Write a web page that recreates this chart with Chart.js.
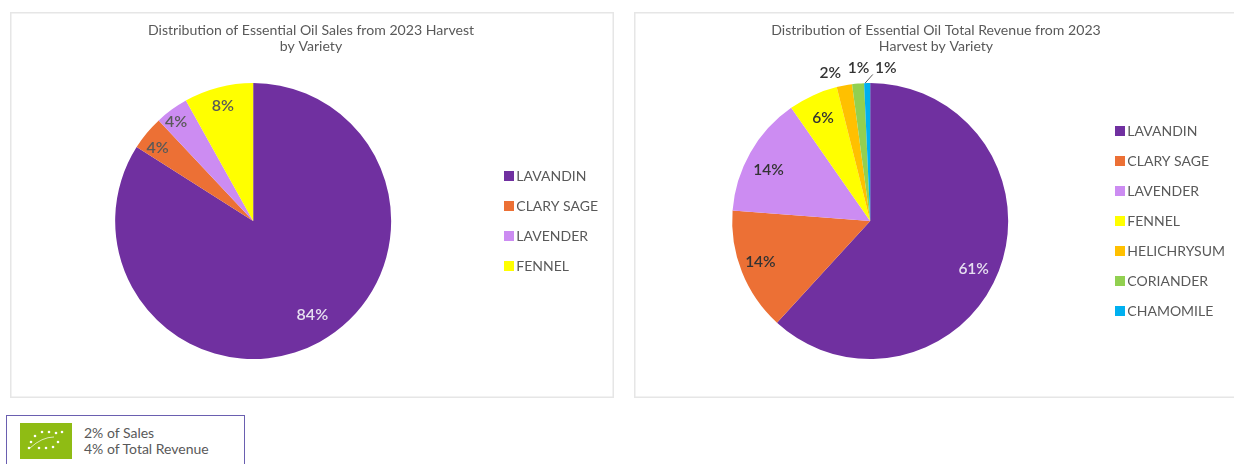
<!DOCTYPE html>
<html>
<head>
<meta charset="utf-8">
<script src="https://cdn.jsdelivr.net/npm/chart.js@4"></script>
<style>
  html, body { margin: 0; background: #fff; overflow: hidden; font-family: Lato, sans-serif; }
  .panel { position: absolute; top: 12px; width: 604px; height: 386px; box-sizing: border-box; box-shadow: inset 0 0 0 1.5px #e6e6e6; }
  #organic { position: absolute; left: 6px; top: 415px; width: 239px; height: 60px; box-sizing: border-box; border: 1.5px solid #6a5fb0; }
  #organic svg { position: absolute; left: 13px; top: 7px; }
  #organic div { position: absolute; left: 77px; top: 9px; font-size: 14px; line-height: 16px; color: #595959; white-space: nowrap; }
</style>
</head>
<body>
<div class="panel" style="left:10px"><canvas id="sales"></canvas></div>
<div class="panel" style="left:634px"><canvas id="revenue"></canvas></div>
<div id="organic">
  <svg width="52" height="36" viewBox="0 0 52 36">
    <rect width="52" height="36" fill="#8fbc14"/>
    <g fill="#fff">
      <circle cx="22" cy="9" r="1.3"/><circle cx="29" cy="9" r="1.3"/><circle cx="36" cy="10" r="1.3"/><circle cx="42" cy="9" r="1.3"/><circle cx="15" cy="13" r="1.3"/>
      <circle cx="11" cy="19" r="1.3"/><circle cx="9" cy="25" r="1.3"/><circle cx="19" cy="25" r="1.3"/><circle cx="26" cy="25" r="1.3"/><circle cx="33" cy="24" r="1.3"/><circle cx="38" cy="19" r="1.3"/>
    </g>
    <path d="M10 25 Q22 14 34 14" stroke="#fff" stroke-width="0.7" fill="none"/>
  </svg>
  <div>2% of Sales<br>4% of Total Revenue</div>
</div>
<script>
var salesLabels = ['LAVANDIN', 'CLARY SAGE', 'LAVENDER', 'FENNEL'];
var salesValues = [84, 4, 3.9, 8.1];
var salesText = ['84%', '4%', '4%', '8%'];

var revenueLabels = ['LAVANDIN', 'CLARY SAGE', 'LAVENDER', 'FENNEL', 'HELICHRYSUM', 'CORIANDER', 'CHAMOMILE'];
var revenueValues = [61.8, 14.4, 14.1, 5.8, 1.8, 1.4, 0.7];
var revenueText = ['61%', '14%', '14%', '6%', '2%', '1%', '1%'];

var sliceColors = ['#7030a0', '#ec7035', '#cc8cf2', '#ffff00', '#ffc000', '#92d050', '#00b0f0'];

// legend square sits close to its text, so it is drawn as a canvas point style
function swatch(color) {
  var c = document.createElement('canvas');
  c.width = 10;
  c.height = 10;
  var g = c.getContext('2d');
  g.fillStyle = color;
  g.fillRect(0, 0, 10, 10);
  return c;
}

// percent labels, drawn at each slice's angle; chart.options.sliceText sets how
var sliceLabels = {
  id: 'sliceLabels',
  afterDatasetsDraw(chart) {
    var opts = chart.options.sliceText;
    var ctx = chart.ctx;
    ctx.save();
    ctx.font = opts.font;
    ctx.textAlign = 'center';
    ctx.textBaseline = 'middle';
    chart.getDatasetMeta(0).data.forEach((arc, i) => {
      var mid = (arc.startAngle + arc.endAngle) / 2;
      var r = arc.outerRadius * opts.radius[i];
      var x = arc.x + Math.cos(mid) * r + opts.shiftX[i];
      var y = arc.y + Math.sin(mid) * r + opts.shiftY[i];
      ctx.fillStyle = opts.colors[i];
      ctx.fillText(opts.text[i], x, y);
      if (opts.leader === i) {
        ctx.strokeStyle = '#595959';
        ctx.lineWidth = 1;
        ctx.beginPath();
        ctx.moveTo(arc.x + Math.cos(mid) * arc.outerRadius - 2, arc.y + Math.sin(mid) * arc.outerRadius);
        ctx.lineTo(x - 13, y + 6);
        ctx.stroke();
      }
    });
    ctx.restore();
  }
};

function pie(id, title, labels, values, count, pad, sliceText) {
  new Chart(document.getElementById(id), {
    type: 'pie',
    data: {
      labels: labels,
      datasets: [{
        data: values,
        backgroundColor: sliceColors.slice(0, count),
        borderWidth: 0
      }]
    },
    plugins: [sliceLabels],
    options: {
      animation: false,
      responsive: true,
      maintainAspectRatio: false,
      layout: { padding: pad },
      sliceText: sliceText,
      plugins: {
        tooltip: { enabled: false },
        title: {
          display: true,
          text: title,
          color: '#595959',
          font: { family: 'Lato', size: 14.1, weight: 'normal', lineHeight: 16 / 14.1 },
          padding: { top: 10, bottom: 29 }
        },
        legend: {
          position: 'right',
          fullSize: false,
          labels: {
            usePointStyle: true,
            pointStyleWidth: 1,
            padding: 16,
            color: '#595959',
            font: { family: 'Lato', size: 14 },
            generateLabels: chart => labels.map((text, i) => ({
              text: text,
              index: i,
              fontColor: '#595959',
              lineWidth: 0,
              pointStyle: swatch(sliceColors[i])
            }))
          }
        }
      }
    }
  });
}

pie('sales',
  ['Distribution of Essential Oil Sales from 2023 Harvest', 'by Variety'],
  salesLabels, salesValues, 4,
  { left: 4, right: 6, bottom: 39 },
  {
    font: '600 16px Lato',
    text: salesText,
    radius: [0.8, 0.88, 0.91, 0.87],
    shiftX: [6, -2, -3, 0],
    shiftY: [-3, 4, 2, 1],
    colors: ['#e6dff0', '#595959', '#595959', '#595959']
  });

pie('revenue',
  ['Distribution of Essential Oil Total Revenue from 2023', 'Harvest by Variety'],
  revenueLabels, revenueValues, 7,
  { left: 3, right: 3, bottom: 39 },
  {
    font: '600 15.5px Lato',
    text: revenueText,
    radius: [0.82, 0.84, 0.84, 0.84, 1.12, 1.12, 1.12],
    shiftX: [-2, -2, -1, 1, -11, 2, 19],
    shiftY: [7, -2, 6, 2, 4, 1, 2],
    colors: ['#e6dff0', '#333', '#333', '#333', '#333', '#333', '#333'],
    leader: 6
  });
</script>
</body>
</html>
